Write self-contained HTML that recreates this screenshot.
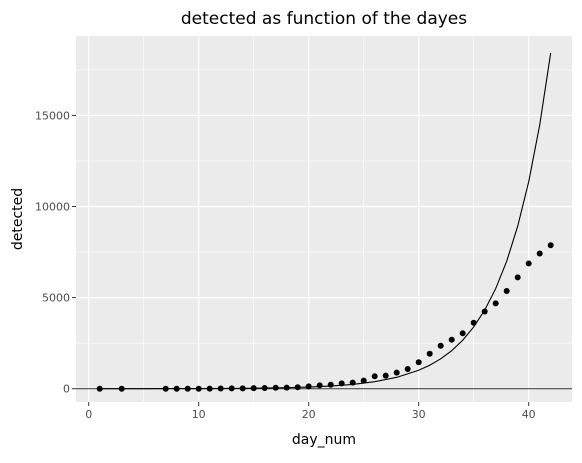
<!DOCTYPE html>
<html><head><meta charset="utf-8"><style>
body{margin:0;background:#fff;}
svg text{font-family:"DejaVu Sans","Liberation Sans",sans-serif;}
</style></head><body>
<svg id="chart" width="582" height="458" xmlns="http://www.w3.org/2000/svg"></svg>
<script>
const days=[1,3,7,8,9,10,11,12,13,14,15,16,17,18,19,20,21,22,23,24,25,26,27,28,29,30,31,32,33,34,35,36,37,38,39,40,41,42];
const detected=[0,0,0,0,0,0,5,10,15,20,30,40,50,60,80,130,185,220,295,330,440,680,715,880,1080,1450,1920,2360,2690,3040,3620,4240,4680,5360,6110,6875,7420,7870];
const fitDays=[1,3,5,8,10,13,15,18,20,22,24,26,28,30,31,32,33,34,35,36,37,38,39,40,41,42];
const fitValues=[1,1.5,2.4,5,8,17,26,55,90,146,236,384,623,1010,1287,1640,2088,2660,3390,4315,5495,7000,8918,11360,14470,18430];
const xTicks=[0,10,20,30,40];
const xMinor=[5,15,25,35];
const yTicks=[0,5000,10000,15000];
const yMinor=[2500,7500,12500,17500];
const yTickLabels=["0","5000","10000","15000"];

const NS="http://www.w3.org/2000/svg";
const svg=document.getElementById('chart');
const L=76,R=572,T=36,B=402;
const X=v=>88.7+v*11.0;
const Y=v=>388.7-v*(91.1/5000);
function el(tag,attrs,parent){const e=document.createElementNS(NS,tag);for(const k in attrs)e.setAttribute(k,attrs[k]);(parent||svg).appendChild(e);return e;}

const panel=el('rect',{x:L,y:T,width:R-L,height:B-T,fill:'#ebebeb'});



xMinor.forEach(v=>{const l=el('line',{x1:X(v),x2:X(v),y1:T,y2:B,stroke:'#fff','stroke-width':0.6});

});
yMinor.forEach(v=>{const l=el('line',{x1:L,x2:R,y1:Y(v),y2:Y(v),stroke:'#fff','stroke-width':0.6});

});
xTicks.forEach(v=>{const l=el('line',{x1:X(v),x2:X(v),y1:T,y2:B,stroke:'#fff','stroke-width':1.2});


const t=el('line',{x1:X(v),x2:X(v),y1:B,y2:B+4,stroke:'#333','stroke-width':1});


const tx=el('text',{x:X(v),y:B+16,'text-anchor':'middle','font-size':11,fill:'#4d4d4d'});tx.textContent=v;

});
yTicks.forEach((v,i)=>{const l=el('line',{x1:L,x2:R,y1:Y(v),y2:Y(v),stroke:'#fff','stroke-width':1.2});


const t=el('line',{x1:L-4,x2:L,y1:Y(v),y2:Y(v),stroke:'#333','stroke-width':1});


const tx=el('text',{x:L-6,y:Y(v)+4,'text-anchor':'end','font-size':11,fill:'#4d4d4d'});tx.textContent=yTickLabels[i];

});

const h=el('line',{x1:L,x2:R,y1:Y(0),y2:Y(0),stroke:'#333','stroke-width':1});



const p=el('polyline',{points:fitDays.map((d,i)=>X(d)+','+Y(fitValues[i])).join(' '),fill:'none',stroke:'#000','stroke-width':1.1});



days.forEach((d,i)=>{const c=el('circle',{cx:X(d),cy:Y(detected[i]),r:3,fill:'#000'});

});

const title=el('text',{x:(L+R)/2,y:24,'text-anchor':'middle','font-size':17,fill:'#000'});title.textContent='detected as function of the dayes';


const xt=el('text',{x:(L+R)/2,y:444,'text-anchor':'middle','font-size':14,fill:'#000'});xt.textContent='day_num';


const yt=el('text',{x:0,y:0,'text-anchor':'middle','font-size':14,fill:'#000',transform:'translate(22,219) rotate(-90)'});yt.textContent='detected';


</script>
</body></html>
